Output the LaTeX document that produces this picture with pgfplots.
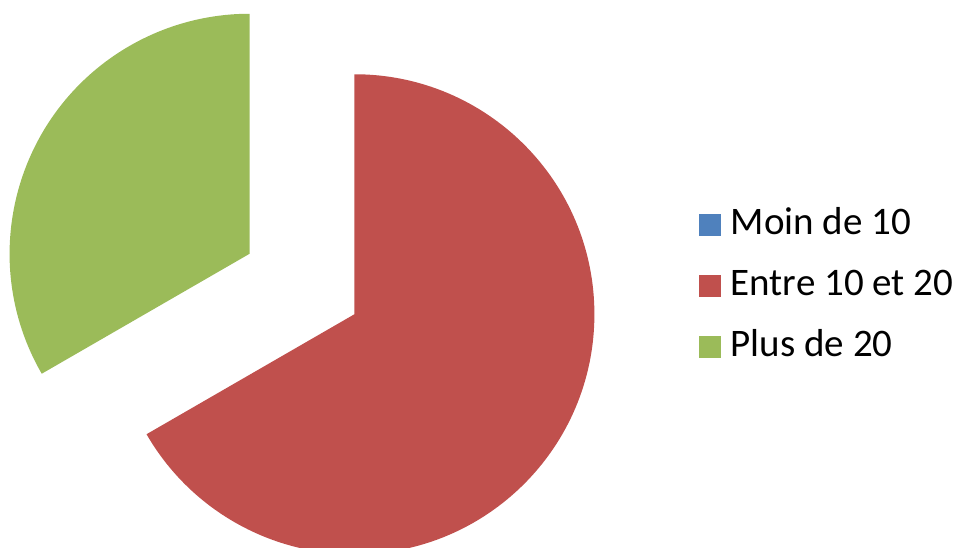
\documentclass[border=0pt]{standalone}
\usepackage{fontspec}
\setmainfont{Carlito}
\usepackage{pgfplots}
\pgfplotsset{compat=1.18}

\definecolor{pieblue}{HTML}{4F81BD}
\definecolor{piered}{HTML}{C0504D}
\definecolor{piegreen}{HTML}{9BBB59}

% shares (percent)
\def\valA{0}      % Moin de 10
\def\valB{66.67}  % Entre 10 et 20
\def\valC{33.33}  % Plus de 20

\begin{document}
\begin{tikzpicture}
\pgfmathsetmacro\total{\valA+\valB+\valC}
% slices go clockwise from 12 o'clock
\pgfmathsetmacro\aStart{90}
\pgfmathsetmacro\bStart{\aStart-360*(\valA/\total)}
\pgfmathsetmacro\bEnd{\bStart-360*(\valB/\total)}
\pgfmathsetmacro\cStart{\bEnd}
\pgfmathsetmacro\cEnd{\cStart-360*(\valC/\total)}
\pgfmathsetmacro\bMid{(\bStart+\bEnd)/2}
\pgfmathsetmacro\cMid{(\cStart+\cEnd)/2}
\begin{axis}[
    hide axis,
    scale only axis,
    x=0.5pt, y=0.5pt,
    xmin=0, xmax=961,
    ymin=0, ymax=547,
    clip=false,
    legend image code/.code={\fill[#1] (0pt,-5.25pt) rectangle (10.5pt,5.25pt);},
    legend cell align=left,
    legend style={
        at={(axis cs:698.5,261)}, anchor=west,
        draw=none, fill=none, overlay,
        font=\fontsize{19.5}{23}\selectfont,
        row sep=13.5pt,
        inner sep=0pt,
        nodes={inner xsep=5pt, inner ysep=0pt, text height=13pt, text depth=4pt},
    },
]
\path (axis cs:0,0) rectangle (axis cs:961,547);

\addlegendimage{pieblue}
\addlegendentry{Moin de 10}
\addlegendimage{piered}
\addlegendentry{Entre 10 et 20}
\addlegendimage{piegreen}
\addlegendentry{Plus de 20}

% Entre 10 et 20 (exploded)
\fill[piered, overlay] (axis cs:302,263) ++(\bMid:30.25pt) coordinate (b0)
    -- ++(\bStart:120pt)
    arc[start angle=\bStart, end angle=\bEnd, radius=120pt]
    -- (b0) -- cycle;
% Plus de 20 (exploded)
\fill[piegreen, overlay] (axis cs:302,263) ++(\cMid:30.25pt) coordinate (c0)
    -- ++(\cStart:120pt)
    arc[start angle=\cStart, end angle=\cEnd, radius=120pt]
    -- (c0) -- cycle;
\end{axis}
\end{tikzpicture}
\end{document}
